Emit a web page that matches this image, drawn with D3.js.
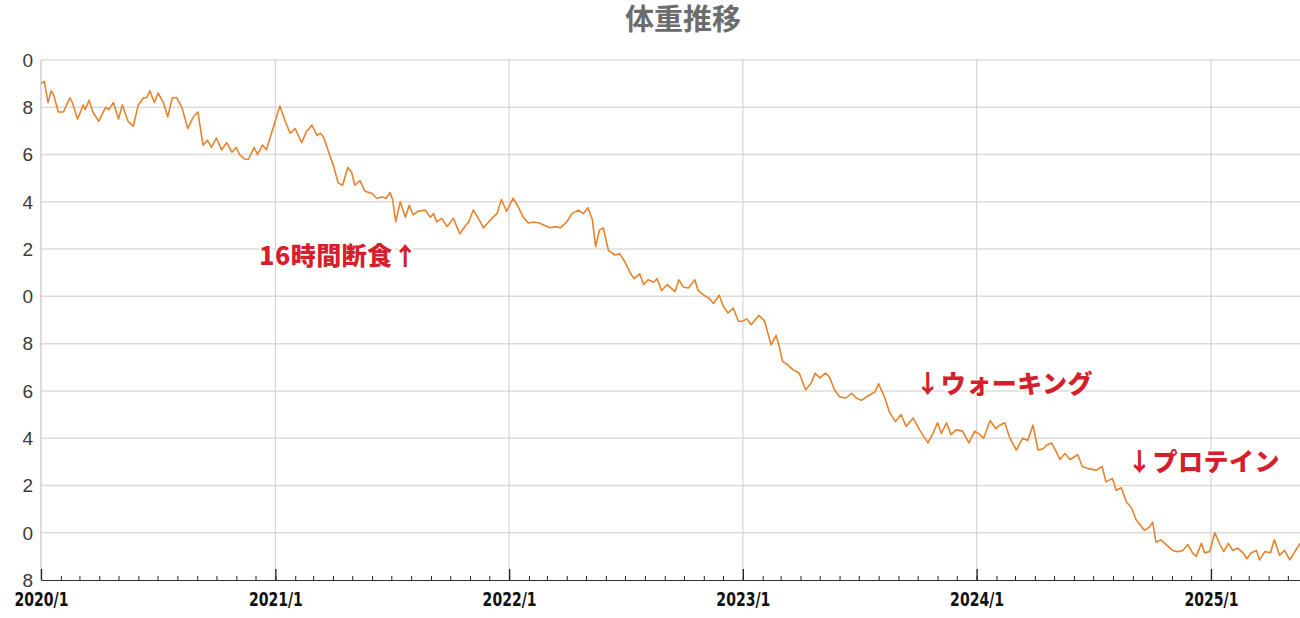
<!DOCTYPE html>
<html>
<head>
<meta charset="utf-8">
<script src="https://cdn.jsdelivr.net/npm/d3@7"></script>
<style>
  body { margin: 0; background: #fff; }
  svg { display: block; }
</style>
</head>
<body>
<script>
// data
var title = "体重推移"
var dates = [
  "2020-01-01","2020-01-06","2020-01-12","2020-01-17","2020-01-21","2020-01-28","2020-02-05","2020-02-15","2020-02-19","2020-02-27",
  "2020-03-07","2020-03-10","2020-03-16","2020-03-22","2020-03-31","2020-04-11","2020-04-16","2020-04-23","2020-05-01","2020-05-07",
  "2020-05-16","2020-05-24","2020-06-01","2020-06-09","2020-06-14","2020-06-19","2020-06-26","2020-07-02","2020-07-10","2020-07-17",
  "2020-07-24","2020-07-31","2020-08-08","2020-08-17","2020-08-26","2020-09-02","2020-09-10","2020-09-17","2020-09-23","2020-10-01",
  "2020-10-09","2020-10-17","2020-10-25","2020-11-01","2020-11-06","2020-11-15","2020-11-20","2020-11-29","2020-12-04","2020-12-12",
  "2020-12-18","2020-12-27","2021-01-08","2021-01-15","2021-01-24","2021-02-01","2021-02-11","2021-02-19","2021-02-23","2021-02-27",
  "2021-03-07","2021-03-12","2021-03-17","2021-03-24","2021-04-02","2021-04-09","2021-04-16","2021-04-24","2021-04-30","2021-05-05",
  "2021-05-13","2021-05-21","2021-06-01","2021-06-08","2021-06-16","2021-06-23","2021-06-29","2021-07-03","2021-07-08","2021-07-15",
  "2021-07-23","2021-07-29","2021-08-04","2021-08-12","2021-08-23","2021-08-31","2021-09-05","2021-09-10","2021-09-18","2021-09-26",
  "2021-10-06","2021-10-16","2021-10-25","2021-10-30","2021-11-06","2021-11-14","2021-11-22","2021-11-30","2021-12-07","2021-12-13",
  "2021-12-20","2021-12-28","2022-01-07","2022-01-15","2022-01-23","2022-01-31","2022-02-08","2022-02-17","2022-02-26","2022-03-06",
  "2022-03-15","2022-03-22","2022-04-01","2022-04-09","2022-04-19","2022-04-27","2022-05-04","2022-05-11","2022-05-16","2022-05-22",
  "2022-05-28","2022-06-05","2022-06-15","2022-06-23","2022-07-01","2022-07-09","2022-07-15","2022-07-24","2022-07-30","2022-08-06",
  "2022-08-15","2022-08-20","2022-08-27","2022-09-05","2022-09-17","2022-09-23","2022-09-30","2022-10-08","2022-10-18","2022-10-23",
  "2022-11-01","2022-11-10","2022-11-16","2022-11-25","2022-12-02","2022-12-09","2022-12-17","2022-12-25","2023-01-01","2023-01-07",
  "2023-01-14","2023-01-26","2023-02-04","2023-02-09","2023-02-14","2023-02-22","2023-02-27","2023-03-04","2023-03-12","2023-03-20",
  "2023-03-30","2023-04-09","2023-04-17","2023-04-24","2023-05-01","2023-05-10","2023-05-16","2023-05-24","2023-06-01","2023-06-11",
  "2023-06-20","2023-06-27","2023-07-05","2023-07-13","2023-07-26","2023-08-01","2023-08-10","2023-08-18","2023-08-27","2023-09-05",
  "2023-09-13","2023-09-24","2023-10-04","2023-10-17","2023-10-24","2023-11-01","2023-11-07","2023-11-15","2023-11-22","2023-11-30",
  "2023-12-10","2023-12-20","2023-12-29","2024-01-06","2024-01-12","2024-01-22","2024-01-31","2024-02-06","2024-02-14","2024-02-22",
  "2024-03-03","2024-03-13","2024-03-21","2024-03-29","2024-04-06","2024-04-14","2024-04-19","2024-04-27","2024-05-04","2024-05-10",
  "2024-05-18","2024-05-26","2024-06-07","2024-06-14","2024-06-25","2024-07-06","2024-07-15","2024-07-21","2024-07-31","2024-08-06",
  "2024-08-14","2024-08-22","2024-08-30","2024-09-06","2024-09-19","2024-09-27","2024-10-02","2024-10-07","2024-10-15","2024-10-23",
  "2024-11-02","2024-11-10","2024-11-18","2024-11-26","2024-12-03","2024-12-09","2024-12-17","2024-12-22","2024-12-30","2025-01-07",
  "2025-01-15","2025-01-21","2025-01-28","2025-02-04","2025-02-12","2025-02-20","2025-02-26","2025-03-05","2025-03-13","2025-03-18",
  "2025-03-26","2025-04-04","2025-04-10","2025-04-18","2025-04-26","2025-05-04","2025-05-12","2025-05-20"
]
var weights = [
  89.0, 89.1, 88.2, 88.7, 88.5, 87.8, 87.8, 88.4, 88.2, 87.5,
  88.1, 87.9, 88.3, 87.8, 87.4, 88.0, 87.9, 88.2, 87.5, 88.1,
  87.4, 87.2, 88.1, 88.4, 88.4, 88.7, 88.2, 88.6, 88.2, 87.6,
  88.4, 88.4, 88.0, 87.1, 87.6, 87.8, 86.4, 86.6, 86.3, 86.7,
  86.2, 86.5, 86.1, 86.3, 86.0, 85.8, 85.8, 86.3, 86.0, 86.4,
  86.2, 87.0, 88.05, 87.5, 86.9, 87.1, 86.5, 87.0, 87.1, 87.25,
  86.8, 86.9, 86.75, 86.2, 85.5, 84.8, 84.7, 85.45, 85.25, 84.7,
  84.9, 84.45, 84.35, 84.15, 84.2, 84.15, 84.4, 84.1, 83.15, 84.0,
  83.35, 83.85, 83.45, 83.6, 83.65, 83.35, 83.5, 83.15, 83.3, 82.95,
  83.3, 82.65, 83.0, 83.15, 83.65, 83.3, 82.9, 83.15, 83.35, 83.5,
  84.1, 83.6, 84.15, 83.8, 83.35, 83.1, 83.15, 83.1, 83.0, 82.9,
  82.95, 82.9, 83.15, 83.5, 83.65, 83.5, 83.75, 83.25, 82.1, 82.8,
  82.9, 81.95, 81.75, 81.8, 81.45, 81.0, 80.75, 80.95, 80.5, 80.7,
  80.6, 80.75, 80.25, 80.5, 80.2, 80.7, 80.4, 80.35, 80.7, 80.25,
  80.05, 79.9, 79.7, 80.05, 79.55, 79.3, 79.5, 78.95, 78.95, 79.05,
  78.8, 79.2, 78.95, 78.45, 77.95, 78.35, 77.85, 77.25, 77.1, 76.9,
  76.75, 76.05, 76.3, 76.75, 76.55, 76.75, 76.6, 76.05, 75.75, 75.7,
  75.9, 75.7, 75.6, 75.75, 75.95, 76.3, 75.75, 75.1, 74.7, 75.0,
  74.5, 74.85, 74.35, 73.8, 74.15, 74.65, 74.2, 74.65, 74.15, 74.35,
  74.3, 73.8, 74.3, 74.15, 74.0, 74.75, 74.4, 74.55, 74.65, 74.0,
  73.5, 74.0, 73.9, 74.55, 73.5, 73.55, 73.7, 73.8, 73.45, 73.1,
  73.35, 73.1, 73.3, 72.8, 72.7, 72.65, 72.8, 72.15, 72.3, 71.8,
  71.9, 71.3, 71.05, 70.55, 70.1, 70.25, 70.45, 69.6, 69.7, 69.5,
  69.25, 69.2, 69.25, 69.5, 69.15, 69.0, 69.55, 69.15, 69.2, 70.0,
  69.5, 69.2, 69.55, 69.25, 69.35, 69.15, 68.9, 69.15, 69.25, 68.85,
  69.2, 69.15, 69.7, 69.05, 69.25, 68.85, 69.2, 69.55
]
var yTicks = [90, 88, 86, 84, 82, 80, 78, 76, 74, 72, 70, 68]
var yearTicks = ["2020-01-01", "2021-01-01", "2022-01-01", "2023-01-01", "2024-01-01", "2025-01-01"]
var yearLabels = ["2020/1", "2021/1", "2022/1", "2023/1", "2024/1", "2025/1"]
var noteTexts = ["16時間断食↑", "↓ウォーキング", "↓プロテイン"]
var noteDates = ["2020-12-07", "2023-09-27", "2024-08-23"]
var noteValues = [81.33, 75.91, 72.6]

var width = 1300,
    height = 618
// plot box (window.top is read-only, so keep these names distinct)
var plotL = 41, plotR = 1300, plotT = 60, plotB = 580

var parse = d3.timeParse("%Y-%m-%d")
var data = dates.map(function (d, i) { return { date: parse(d), value: weights[i] } })

var svg = d3.select("body").append("svg")
    .attr("width", width)
    .attr("height", height)

var x = d3.scaleTime()
    .domain([parse("2020-01-01"), parse("2025-05-20")])
    .range([plotL, plotR])
var y = d3.scaleLinear()
    .domain([68, 90])
    .range([plotB, plotT])

var defs = svg.append("defs")
defs.append("clipPath").attr("id", "plotclip")
    .append("rect").attr("x", plotL).attr("y", plotT - 10).attr("width", plotR - plotL).attr("height", plotB - plotT + 10)
// the picture is cut on the left, only the last digit of each label shows
defs.append("clipPath").attr("id", "labelclip")
    .append("rect").attr("x", 22.5).attr("y", 0).attr("width", 30).attr("height", height)

// title
svg.append("text")
    .attr("x", 683)
    .attr("y", 30)
    .attr("text-anchor", "middle")
    .style("font-family", "'Noto Sans CJK JP', sans-serif")
    .style("font-weight", "700")
    .style("font-size", "29px")
    .style("fill", "#6c6c6c")
    .text(title)

// grid
var grid = svg.append("g")
grid.selectAll(".hgrid")
    .data(yTicks.slice(0, -1))
    .enter().append("line")
    .attr("x1", plotL).attr("x2", plotR)
    .attr("y1", d => y(d)).attr("y2", d => y(d))
    .style("stroke", "#dcdcdc")
    .style("stroke-width", 1.5)
grid.selectAll(".vgrid")
    .data(yearTicks.slice(1))
    .enter().append("line")
    .attr("x1", d => x(parse(d))).attr("x2", d => x(parse(d)))
    .attr("y1", plotT).attr("y2", plotB)
    .style("stroke", "#d4d4d4")
    .style("stroke-width", 1.2)
grid.append("line")
    .attr("x1", plotL).attr("x2", plotL)
    .attr("y1", plotT).attr("y2", plotB)
    .style("stroke", "#c4c4c4")
    .style("stroke-width", 1.2)

// y labels
svg.append("g")
    .attr("clip-path", "url(#labelclip)")
    .selectAll("text")
    .data(yTicks)
    .enter().append("text")
    .attr("x", 33)
    .attr("y", d => y(d))
    .attr("dy", "0.36em")
    .attr("text-anchor", "end")
    .style("font-family", "'Liberation Sans', Arial, sans-serif")
    .style("font-size", "19px")
    .style("fill", "#3a3a3a")
    .text(d => d)

// x axis: monthly minor ticks pointing up, taller ticks at each year
var monthAxis = d3.axisBottom(x)
    .ticks(d3.timeMonth.every(1))
    .tickSize(-4)
    .tickFormat("")
svg.append("g")
    .attr("transform", "translate(0," + plotB + ")")
    .call(monthAxis)
    .call(g => g.select(".domain").style("stroke", "#333"))
    .call(g => g.selectAll(".tick line").style("stroke", "#222"))

var yearAxis = d3.axisBottom(x)
    .tickValues(yearTicks.map(parse))
    .tickSize(-11)
    .tickPadding(12)
    .tickFormat((d, i) => yearLabels[i])
svg.append("g")
    .attr("transform", "translate(0," + plotB + ")")
    .call(yearAxis)
    .call(g => g.select(".domain").remove())
    .call(g => g.selectAll(".tick line").style("stroke", "#222").style("stroke-width", 1.3))
    .call(g => g.selectAll(".tick text")
        .attr("textLength", 54)
        .attr("lengthAdjust", "spacingAndGlyphs")
        .style("font-family", "'DejaVu Sans Condensed', 'DejaVu Sans', sans-serif")
        .style("font-weight", "700")
        .style("font-size", "20px")
        .style("fill", "#111"))

// weight line
var line = d3.line()
    .x(d => x(d.date))
    .y(d => y(d.value))
svg.append("path")
    .datum(data)
    .attr("clip-path", "url(#plotclip)")
    .attr("d", line)
    .style("fill", "none")
    .style("stroke", "#e5832f")
    .style("stroke-width", 1.6)
    .style("stroke-linejoin", "round")

// notes
svg.append("g")
    .selectAll("text")
    .data(noteTexts)
    .enter().append("text")
    .attr("x", (d, i) => x(parse(noteDates[i])))
    .attr("y", (d, i) => y(noteValues[i]))
    .style("font-family", "'Noto Sans CJK JP', sans-serif")
    .style("font-weight", "900")
    .style("font-size", "25px")
    .style("letter-spacing", "0.5px")
    .style("fill", "#d61f2c")
    .style("stroke", "#fff")
    .style("stroke-width", 3)
    .style("paint-order", "stroke")
    .text(d => d)
</script>
</body>
</html>
